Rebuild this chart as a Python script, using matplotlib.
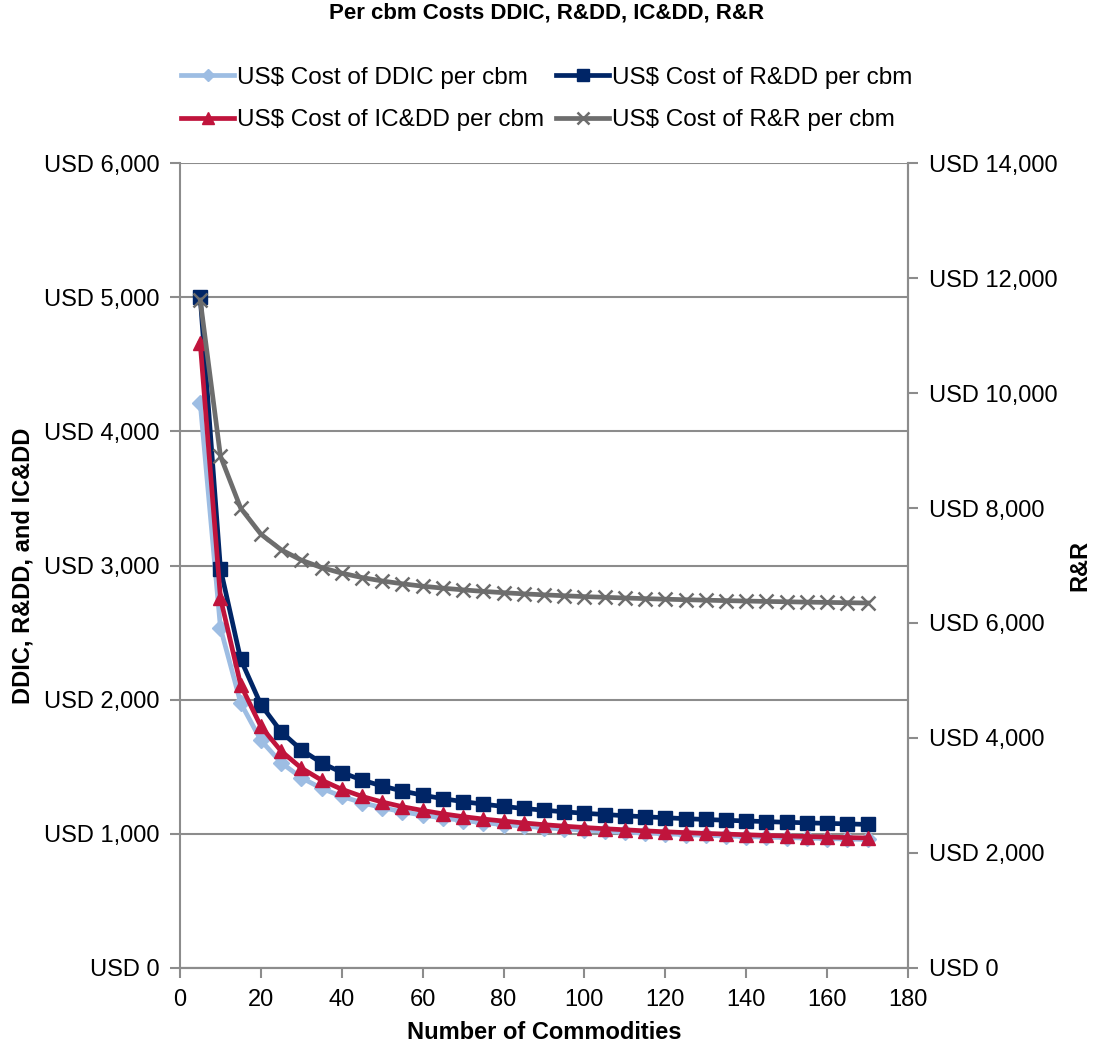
# Per cbm costs of DDIC, R&DD, IC&DD (left axis) and R&R (right axis)
import matplotlib
matplotlib.use("Agg")
import matplotlib.pyplot as plt

plt.rcParams['font.family'] = ['Liberation Sans', 'DejaVu Sans']

commodities = list(range(5, 175, 5))

ddic = [4210, 2535, 1975, 1697, 1530, 1418, 1339, 1279, 1232, 1195,
        1164, 1139, 1118, 1099, 1083, 1069, 1057, 1046, 1036, 1028,
        1020, 1012, 1006, 1000, 994, 989, 984, 980, 975, 972,
        968, 965, 961, 958]
rdd = [5000, 2976, 2301, 1963, 1761, 1626, 1529, 1457, 1401, 1356,
       1319, 1288, 1262, 1240, 1221, 1204, 1189, 1176, 1164, 1153,
       1144, 1135, 1127, 1120, 1113, 1107, 1101, 1096, 1091, 1086,
       1082, 1078, 1074, 1070]
icdd = [4657, 2757, 2110, 1800, 1617, 1490, 1400, 1332, 1279, 1237,
        1202, 1174, 1149, 1128, 1110, 1095, 1081, 1068, 1057, 1047,
        1038, 1030, 1022, 1015, 1009, 1003, 998, 993, 988, 984,
        980, 976, 972, 969]
rr = [11617, 8902, 7998, 7545, 7274, 7093, 6964, 6867, 6791, 6731,
      6682, 6640, 6606, 6576, 6550, 6527, 6507, 6490, 6474, 6459,
      6447, 6435, 6424, 6414, 6405, 6397, 6389, 6382, 6375, 6369,
      6363, 6358, 6353, 6348]

left_ticks = [0, 1000, 2000, 3000, 4000, 5000, 6000]
right_ticks = [0, 2000, 4000, 6000, 8000, 10000, 12000, 14000]
x_ticks = list(range(0, 200, 20))

grid_grey = "#8c8c8c"

fig = plt.figure(figsize=(10.93, 10.45), dpi=100)
ax = fig.add_axes([0.1647, 0.0737, 0.666, 0.7703])
ax2 = ax.twinx()

l1, = ax.plot(commodities, ddic, color="#9dbde3", lw=3.4, marker="D", ms=8,
              label="US$ Cost of DDIC per cbm", zorder=3)
l2, = ax.plot(commodities, rdd, color="#002566", lw=3.4, marker="s", ms=10.5,
              label="US$ Cost of R&DD per cbm", zorder=4)
l3, = ax.plot(commodities, icdd, color="#c0143c", lw=3.4, marker="^", ms=10.5,
              label="US$ Cost of IC&DD per cbm", zorder=5)
l4, = ax2.plot(commodities, rr, color="#6d6d6d", lw=3.4, marker="x", ms=10,
               mew=1.8, label="US$ Cost of R&R per cbm", zorder=3)

ax.set_xlim(0, 180)
ax.set_ylim(0, 6000)
ax2.set_ylim(0, 14000)
ax.set_xticks(x_ticks)
ax.set_yticks(left_ticks)
ax2.set_yticks(right_ticks)
ax.set_yticklabels(["USD {:,}".format(v) for v in left_ticks])
ax2.set_yticklabels(["USD {:,}".format(v) for v in right_ticks])

ax.yaxis.grid(True, color=grid_grey, lw=1.5)
ax.set_axisbelow(True)
for a in (ax, ax2):
    for s in a.spines.values():
        s.set_color(grid_grey)
        s.set_linewidth(1.5)
    a.spines["top"].set_visible(False)
    a.tick_params(colors=grid_grey, labelcolor="black", labelsize=17,
                  length=7, width=1.5, direction="out", pad=8)
ax2.spines["left"].set_visible(False)

ax.set_xlabel("Number of Commodities", fontsize=17, fontweight="bold", labelpad=7)
# axis titles for the two y axes, placed in figure coordinates
fig.text(0.021, 0.4585, "DDIC, R&DD, and IC&DD", fontsize=17, fontweight="bold",
         rotation=90, ha="center", va="center")
fig.text(0.988, 0.4585, "R&R", fontsize=17, fontweight="bold",
         rotation=90, ha="center", va="center")

fig.suptitle("Per cbm Costs DDIC, R&DD, IC&DD, R&R", fontsize=16,
             fontweight="bold", y=0.998)

fig.legend(handles=[l1, l3, l2, l4], ncol=2, loc="upper center",
           bbox_to_anchor=(0.5, 0.957), frameon=False, fontsize=17.5,
           handlelength=2.2, handletextpad=0.1, columnspacing=0.5,
           labelspacing=0.85, markerscale=0.8)

fig.savefig("out.png", dpi=100)
